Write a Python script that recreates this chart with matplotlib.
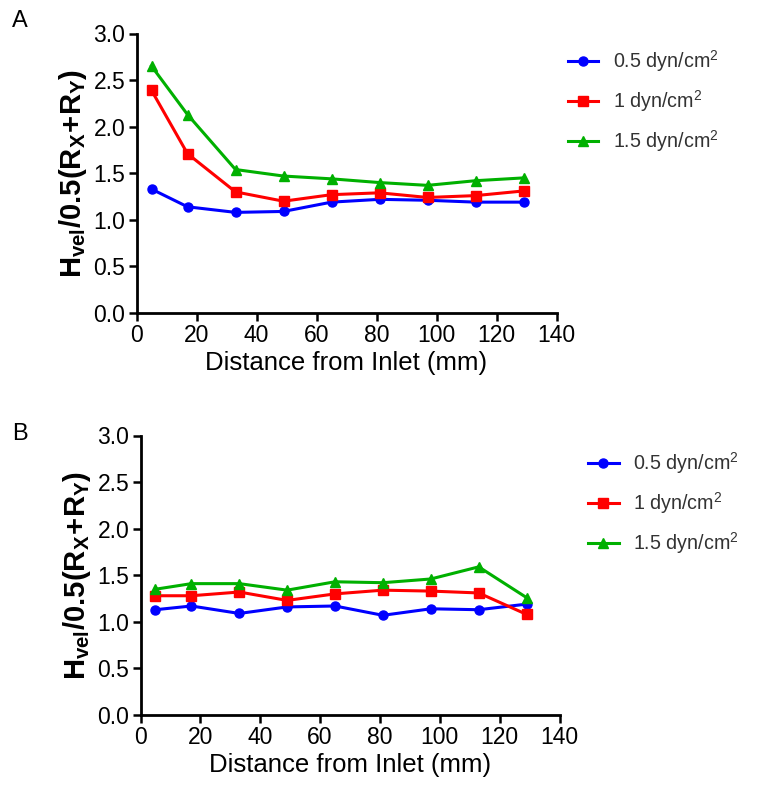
import matplotlib
matplotlib.use("Agg")
import matplotlib.pyplot as plt

plt.rcParams['font.family'] = ['Liberation Sans', 'DejaVu Sans']
plt.rcParams['mathtext.fontset'] = 'custom'
plt.rcParams['mathtext.rm'] = 'Liberation Sans'
plt.rcParams['mathtext.it'] = 'Liberation Sans:italic'
plt.rcParams['mathtext.bf'] = 'Liberation Sans:bold'

distance = [5, 17, 33, 49, 65, 81, 97, 113, 129]
labels = ["0.5 dyn/cm$^2$", "1 dyn/cm$^2$", "1.5 dyn/cm$^2$"]

a_05 = [1.33, 1.14, 1.08, 1.09, 1.19, 1.22, 1.21, 1.19, 1.19]
a_10 = [2.39, 1.71, 1.30, 1.20, 1.27, 1.29, 1.24, 1.26, 1.31]
a_15 = [2.65, 2.13, 1.54, 1.47, 1.44, 1.40, 1.37, 1.42, 1.45]

b_05 = [1.13, 1.17, 1.09, 1.16, 1.17, 1.07, 1.14, 1.13, 1.19]
b_10 = [1.28, 1.28, 1.32, 1.23, 1.30, 1.34, 1.33, 1.31, 1.08]
b_15 = [1.35, 1.41, 1.41, 1.34, 1.43, 1.42, 1.46, 1.59, 1.26]

colors = ['#0000FF', '#FF0000', '#00B000']
markers = ['o', 's', '^']
msizes = [6.5, 6.5, 7]

W, H = 759, 791
fig = plt.figure(figsize=(W / 100, H / 100), dpi=100)

def make_ax(left, top, right, bottom):
    return fig.add_axes([left / W, 1 - bottom / H, (right - left) / W, (bottom - top) / H])

axA = make_ax(136.5, 33.5, 556.5, 313)
axB = make_ax(140.5, 435.5, 559.5, 715)

ylabel = r'$\mathbf{H_{vel}/0.5(R_X\!+\!R_Y)}$'

def style(ax, series, legend_anchor):
    for vals, c, m, ms, lab in zip(series, colors, markers, msizes, labels):
        ax.plot(distance, vals, color=c, marker=m, markersize=ms, linewidth=2.2,
                label=lab, clip_on=False)
    ax.set_xlim(0, 140)
    ax.set_ylim(0, 3.0)
    ax.set_xticks(range(0, 141, 20))
    ax.set_yticks([0, 0.5, 1.0, 1.5, 2.0, 2.5, 3.0])
    ax.set_yticklabels(['0.0', '0.5', '1.0', '1.5', '2.0', '2.5', '3.0'])
    for s in ['top', 'right']:
        ax.spines[s].set_visible(False)
    for s in ['left', 'bottom']:
        ax.spines[s].set_linewidth(2)
    ax.tick_params(direction='out', length=6, width=1.8, labelsize=16.5, colors='black', pad=2)
    ax.set_xlabel('Distance from Inlet (mm)', fontsize=18.5, labelpad=3)
    ax.set_ylabel(ylabel, fontsize=21, labelpad=3)
    leg = ax.legend(loc='upper left', bbox_to_anchor=legend_anchor, frameon=False,
                    fontsize=14.2, handlelength=1.55, labelspacing=0.72, handletextpad=0.75,
                    borderaxespad=0, borderpad=0)
    for t in leg.get_texts():
        t.set_color('#333333')

style(axA, [a_05, a_10, a_15], (1.027, 0.948))
style(axB, [b_05, b_10, b_15], (1.068, 0.948))

fig.text(12 / W, 1 - 21 / H, 'A', fontsize=17, va='center', ha='left')
fig.text(12 / W, 1 - 434 / H, 'B', fontsize=17, va='center', ha='left')

fig.savefig('out.png', dpi=100)
